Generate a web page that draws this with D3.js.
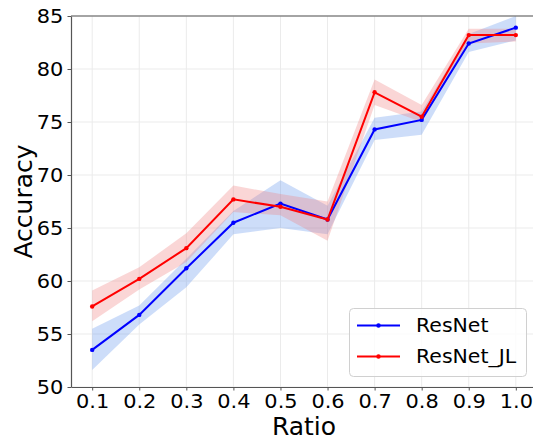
<!DOCTYPE html>
<html>
<head>
<meta charset="utf-8">
<script src="https://cdn.jsdelivr.net/npm/d3@7"></script>
<style>
  html, body { margin: 0; padding: 0; background: #fff; }
  svg { display: block; font-family: "DejaVu Sans", sans-serif; }
</style>
</head>
<body>
<svg id="chart" width="533" height="440"></svg>
<script>
const ratios = [0.1, 0.2, 0.3, 0.4, 0.5, 0.6, 0.7, 0.8, 0.9, 1.0];
const resnetMean  = [53.5, 56.8, 61.2, 65.5, 67.3, 65.8, 74.3, 75.2, 82.4, 83.9];
const resnetLow   = [51.6, 55.9, 59.4, 64.4, 65.0, 64.4, 73.3, 73.8, 81.6, 82.7];
const resnetHigh  = [55.5, 57.7, 62.1, 66.6, 69.5, 67.1, 75.4, 76.0, 83.3, 85.0];
const jlMean      = [57.6, 60.2, 63.1, 67.7, 67.0, 65.8, 77.8, 75.5, 83.2, 83.2];
const jlLow       = [56.2, 59.2, 61.8, 66.5, 66.2, 63.8, 76.6, 75.0, 82.4, 82.6];
const jlHigh      = [59.1, 61.3, 64.5, 69.0, 68.2, 67.5, 79.0, 76.6, 83.8, 83.8];
const xTicks = [0.1, 0.2, 0.3, 0.4, 0.5, 0.6, 0.7, 0.8, 0.9, 1.0];
const yTicks = [50, 55, 60, 65, 70, 75, 80, 85];
const seriesNames = ["ResNet", "ResNet_JL"];

const svg = d3.select("#chart");
const pLeft = 71, pRight = 537, pTop = 16, pBottom = 387;
const stretch = 1.1;
const legendStretch = 1.05;

const x = d3.scaleLinear().domain([0.055, 1.045]).range([pLeft, pRight]);
const y = d3.scaleLinear().domain([50, 85]).range([pBottom, pTop]);

// grid
const grid = svg.append("g");
grid.selectAll("line.v").data(xTicks).enter().append("line")
  .attr("x1", d => x(d)).attr("x2", d => x(d))
  .attr("y1", pTop).attr("y2", pBottom)
  .attr("stroke", "#ebebeb").attr("stroke-width", 1);
grid.selectAll("line.h").data(yTicks).enter().append("line")
  .attr("x1", pLeft).attr("x2", pRight)
  .attr("y1", d => y(d)).attr("y2", d => y(d))
  .attr("stroke", "#ebebeb").attr("stroke-width", 1);

const series = [
  { name: seriesNames[0], mean: resnetMean, low: resnetLow, high: resnetHigh, line: "#0000ff", band: "#6495ED", op: 0.32 },
  { name: seriesNames[1], mean: jlMean, low: jlLow, high: jlHigh, line: "#ff0000", band: "#F08080", op: 0.32 }
];

const area = d3.area().x((d, i) => x(ratios[i])).y0(d => y(d[0])).y1(d => y(d[1]));
const line = d3.line().x((d, i) => x(ratios[i])).y(d => y(d));

series.forEach(s => {
  svg.append("path")
    .datum(s.low.map((v, i) => [v, s.high[i]]))
    .attr("d", area)
    .attr("fill", s.band).attr("fill-opacity", s.op).attr("stroke", "none");
});
series.forEach(s => {
  svg.append("path").datum(s.mean).attr("d", line)
    .attr("fill", "none").attr("stroke", s.line).attr("stroke-width", 2);
  svg.append("g").selectAll("circle").data(s.mean).enter().append("circle")
    .attr("cx", (d, i) => x(ratios[i])).attr("cy", d => y(d)).attr("r", 2.2)
    .attr("fill", s.line);
});

// axes
const xAxis = d3.axisBottom(x).tickValues(xTicks).tickFormat(d3.format(".1f"))
  .tickSize(3.5).tickPadding(4).tickSizeOuter(0);
const yAxis = d3.axisLeft(y).tickValues(yTicks).tickFormat(d3.format("d"))
  .tickSize(3.5).tickPadding(4.2).tickSizeOuter(0);

const gx = svg.append("g").attr("transform", `translate(0,${pBottom})`).call(xAxis);
const gy = svg.append("g").attr("transform", `translate(${pLeft},0)`).call(yAxis);
[gx, gy].forEach(g => {
  g.selectAll("text").attr("font-family", "DejaVu Sans").attr("font-size", 19).attr("fill", "#000")
    .attr("transform", `scale(${stretch},1)`);
  g.selectAll(".tick line").attr("stroke", "#555").attr("stroke-width", 1);
  g.select(".domain").attr("stroke", "#555").attr("stroke-width", 1.2);
});
gy.selectAll("text").attr("x", -7.7 / stretch);
// top spine
svg.append("line").attr("x1", pLeft).attr("x2", pRight).attr("y1", pTop).attr("y2", pTop)
  .attr("stroke", "#555").attr("stroke-width", 1.2);

// axis labels
svg.append("text").attr("x", (pLeft + pRight) / 2).attr("y", 435)
  .attr("text-anchor", "middle").attr("font-size", 25).attr("fill", "#000").text("Ratio");
svg.append("text").attr("transform", `translate(31.5,${(pTop + pBottom) / 2}) rotate(-90)`)
  .attr("text-anchor", "middle").attr("font-size", 25).attr("fill", "#000").text("Accuracy");

// legend
const lg = svg.append("g");
lg.append("rect").attr("x", 349.5).attr("y", 308.5).attr("width", 177).attr("height", 68)
  .attr("rx", 4).attr("fill", "#fff").attr("fill-opacity", 0.8)
  .attr("stroke", "#d0d0d0").attr("stroke-width", 1);
series.forEach((s, i) => {
  const yy = 325.5 + i * 31;
  lg.append("line").attr("x1", 357).attr("x2", 400).attr("y1", yy).attr("y2", yy)
    .attr("stroke", s.line).attr("stroke-width", 2);
  lg.append("circle").attr("cx", 378.5).attr("cy", yy).attr("r", 2.2).attr("fill", s.line);
  lg.append("text").attr("transform", `translate(416,${yy}) scale(${legendStretch},1)`)
    .attr("dy", "0.35em")
    .attr("font-size", 19.5).attr("fill", "#000").text(s.name);
});
</script>
</body>
</html>
